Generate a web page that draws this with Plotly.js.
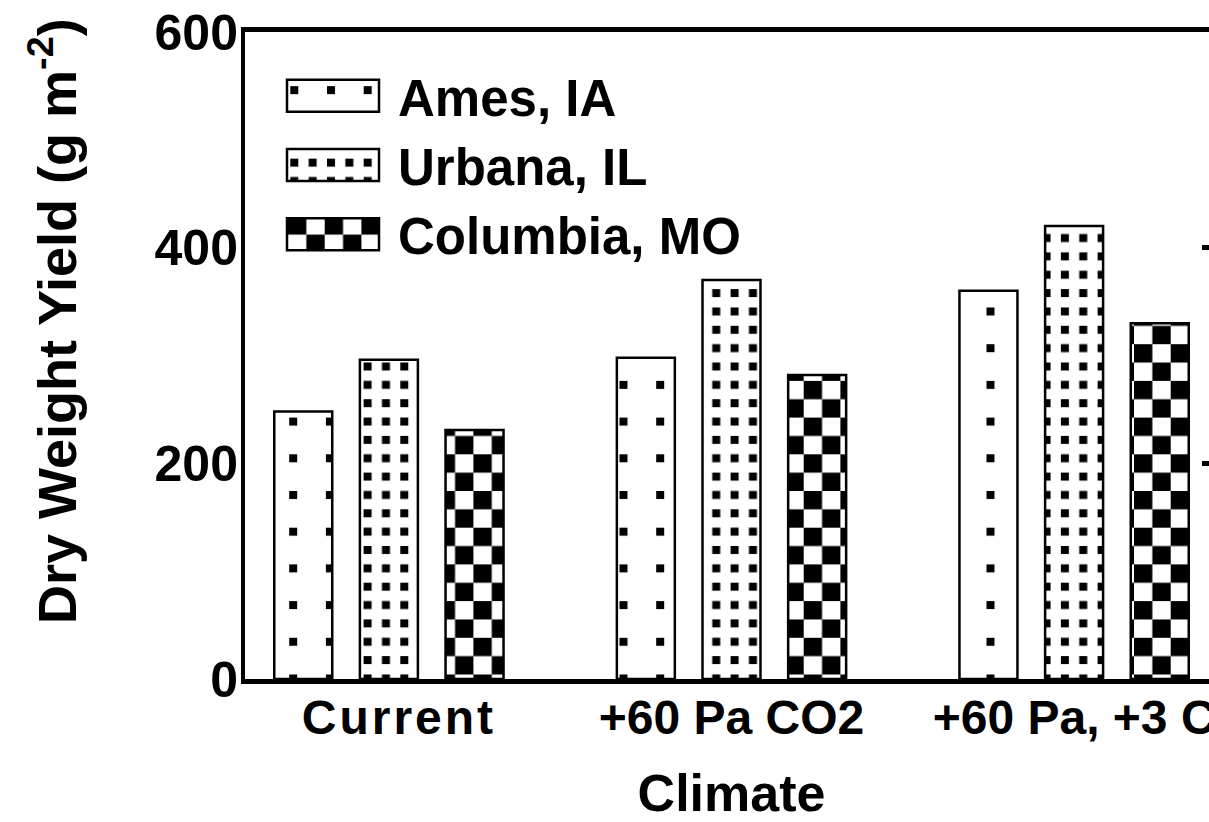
<!DOCTYPE html>
<html>
<head>
<meta charset="utf-8">
<script src="https://cdn.plot.ly/plotly-3.0.1.min.js"></script>
<style>
html, body { margin: 0; padding: 0; overflow: hidden; background: #ffffff; width: 1209px; height: 822px; }
#chart { width: 1260px; height: 822px; }
</style>
</head>
<body>
<div id="chart"></div>
<script>
// ---- data ----
const climates = ['Current', '+60 Pa CO2', '+60 Pa, +3 C'];
const seriesNames = ['Ames, IA', 'Urbana, IL', 'Columbia, MO'];
const ames = [248, 298, 360];
const urbana = [296, 370, 420];
const columbia = [231, 282, 330];
const yTicks = [0, 200, 400, 600];
const rightTicks = [200, 400];

const fontFam = '"Liberation Sans", Arial, Helvetica, sans-serif';
const uids = ['ames', 'urbana', 'columbia'];
const kinds = ['sparse', 'dense', 'checker'];
const values = [ames, urbana, columbia];

const traces = seriesNames.map((name, i) => ({
  type: 'bar',
  name: name,
  uid: uids[i],
  x: climates,
  y: values[i],
  marker: {
    color: '#ffffff',
    line: { color: '#000000', width: 2.5 },
    pattern: { shape: i === 2 ? 'x' : '.', bgcolor: '#ffffff', fgcolor: '#000000', size: 12, solidity: 0.3 }
  },
  hoverinfo: 'skip'
}));
// empty helper trace so that the right-hand (mirror) axis with inward ticks is drawn
traces.push({ type: 'scatter', x: [], y: [], yaxis: 'y2', showlegend: false, hoverinfo: 'skip' });

const W = 1260, H = 822;
const L = 245, R = 42, T = 32, B = 143;
const plotW = W - L - R, plotH = H - T - B;

const layout = {
  width: W, height: H,
  margin: { l: L, r: R, t: T, b: B, pad: 0, autoexpand: false },
  paper_bgcolor: '#ffffff',
  plot_bgcolor: '#ffffff',
  barmode: 'group',
  bargap: 0.25,
  bargroupgap: 0.323,
  font: { family: fontFam, weight: 'bold', color: '#000000', size: 50 },
  showlegend: true,
  legend: {
    xref: 'paper', yref: 'paper',
    x: (268 - L) / plotW, y: (H - B - 56) / plotH,
    xanchor: 'left', yanchor: 'top',
    font: { family: fontFam, weight: 'bold', size: 51, color: '#000000' },
    itemwidth: 120,
    bgcolor: 'rgba(0,0,0,0)',
    borderwidth: 0,
    tracegroupgap: 0,
    traceorder: 'normal'
  },
  xaxis: {
    type: 'category',
    range: [-0.42, 2.42],
    automargin: false,
    showline: true, linewidth: 5, linecolor: '#000000', mirror: true,
    ticks: '', showgrid: false, zeroline: false,
    tickangle: 0,
    ticklabelstandoff: -8,
    tickfont: { family: fontFam, weight: 'bold', size: 48, color: '#000000' },
    title: { text: 'Climate', font: { family: fontFam, weight: 'bold', size: 52, color: '#000000' }, standoff: 51 },
    fixedrange: true
  },
  yaxis: {
    range: [0, 600],
    automargin: false,
    tickvals: yTicks,
    ticktext: yTicks.map(String),
    showline: true, linewidth: 4, linecolor: '#000000',
    ticks: '', showgrid: false, zeroline: false,
    ticklabelstandoff: -7,
    tickfont: { family: fontFam, weight: 'bold', size: 50, color: '#000000' },
    fixedrange: true
  },
  yaxis2: {
    overlaying: 'y', side: 'right', anchor: 'x',
    range: [0, 600],
    automargin: false,
    tickvals: rightTicks,
    ticks: 'inside', ticklen: 16, tickwidth: 5, tickcolor: '#000000',
    showticklabels: false,
    showline: true, linewidth: 4, linecolor: '#000000',
    showgrid: false, zeroline: false, fixedrange: true
  },
  annotations: [{
    text: 'Dry Weight Yield (g m<sup>-2</sup>)',
    xref: 'paper', yref: 'paper',
    x: (53 - L) / plotW, y: (H - B - 321) / plotH,
    xanchor: 'center', yanchor: 'middle',
    textangle: -90, showarrow: false,
    font: { family: fontFam, weight: 'bold', size: 54, color: '#000000' }
  }]
};

const NS = 'http://www.w3.org/2000/svg';
const P = 36.7, HALF = P / 2, D = 8;

function buildPattern(pat, kind, ox, oy) {
  while (pat.firstChild) pat.removeChild(pat.firstChild);
  pat.setAttribute('patternUnits', 'userSpaceOnUse');
  pat.setAttribute('width', P);
  pat.setAttribute('height', P);
  pat.setAttribute('patternTransform', 'translate(' + ox + ',' + oy + ')');
  const add = (x, y, w, h, c) => {
    const r = document.createElementNS(NS, 'rect');
    r.setAttribute('x', x); r.setAttribute('y', y);
    r.setAttribute('width', w); r.setAttribute('height', h);
    r.setAttribute('fill', c);
    pat.appendChild(r);
  };
  add(0, 0, P, P, '#ffffff');
  if (kind === 'sparse') {
    add(0, 0, D, D, '#000000');
  } else if (kind === 'dense') {
    add(0, 0, D, D, '#000000'); add(HALF, 0, D, D, '#000000');
    add(0, HALF, D, D, '#000000'); add(HALF, HALF, D, D, '#000000');
  } else {
    add(0, 0, HALF, HALF, '#000000'); add(HALF, HALF, HALF, HALF, '#000000');
  }
}

function patternOf(el) {
  if (!el) return null;
  const f = el.style.fill || el.getAttribute('fill') || '';
  const m = f.match(/#([^"')\s]+)/);
  return m ? document.getElementById(m[1]) : null;
}

const barOffsets = [[7.5, 18.6], [8.5, 0.2], [8.2, 18.6]];
const legOffsets = [[-6, -9.5], [-6, -6.3], [-8.3, -18]];

Plotly.newPlot('chart', traces, layout, { staticPlot: true, displayModeBar: false }).then(gd => {
  const barTraces = gd.querySelectorAll('.barlayer .trace');
  barTraces.forEach((tr, i) => {
    const p = tr.querySelector('path');
    const pat = patternOf(p);
    if (pat) buildPattern(pat, kinds[i], barOffsets[i][0], barOffsets[i][1]);
  });
  const legItems = gd.querySelectorAll('.legend .traces');
  legItems.forEach((it, i) => {
    const p = it.querySelector('.legendpoints path');
    if (!p) return;
    p.setAttribute('d', 'M-46,-16H46V16H-46Z');
    p.style.strokeWidth = '2.5px';
    p.style.stroke = '#000000';
    const pat = patternOf(p);
    if (pat) buildPattern(pat, kinds[i], legOffsets[i][0], legOffsets[i][1]);
  });
  // the first category label is letter-spaced (and sits a little right) in the reference
  const firstTick = gd.querySelector('.xtick text');
  if (firstTick) {
    firstTick.style.letterSpacing = '3px';
    firstTick.setAttribute('dx', '10');
  }
});
</script>
</body>
</html>
